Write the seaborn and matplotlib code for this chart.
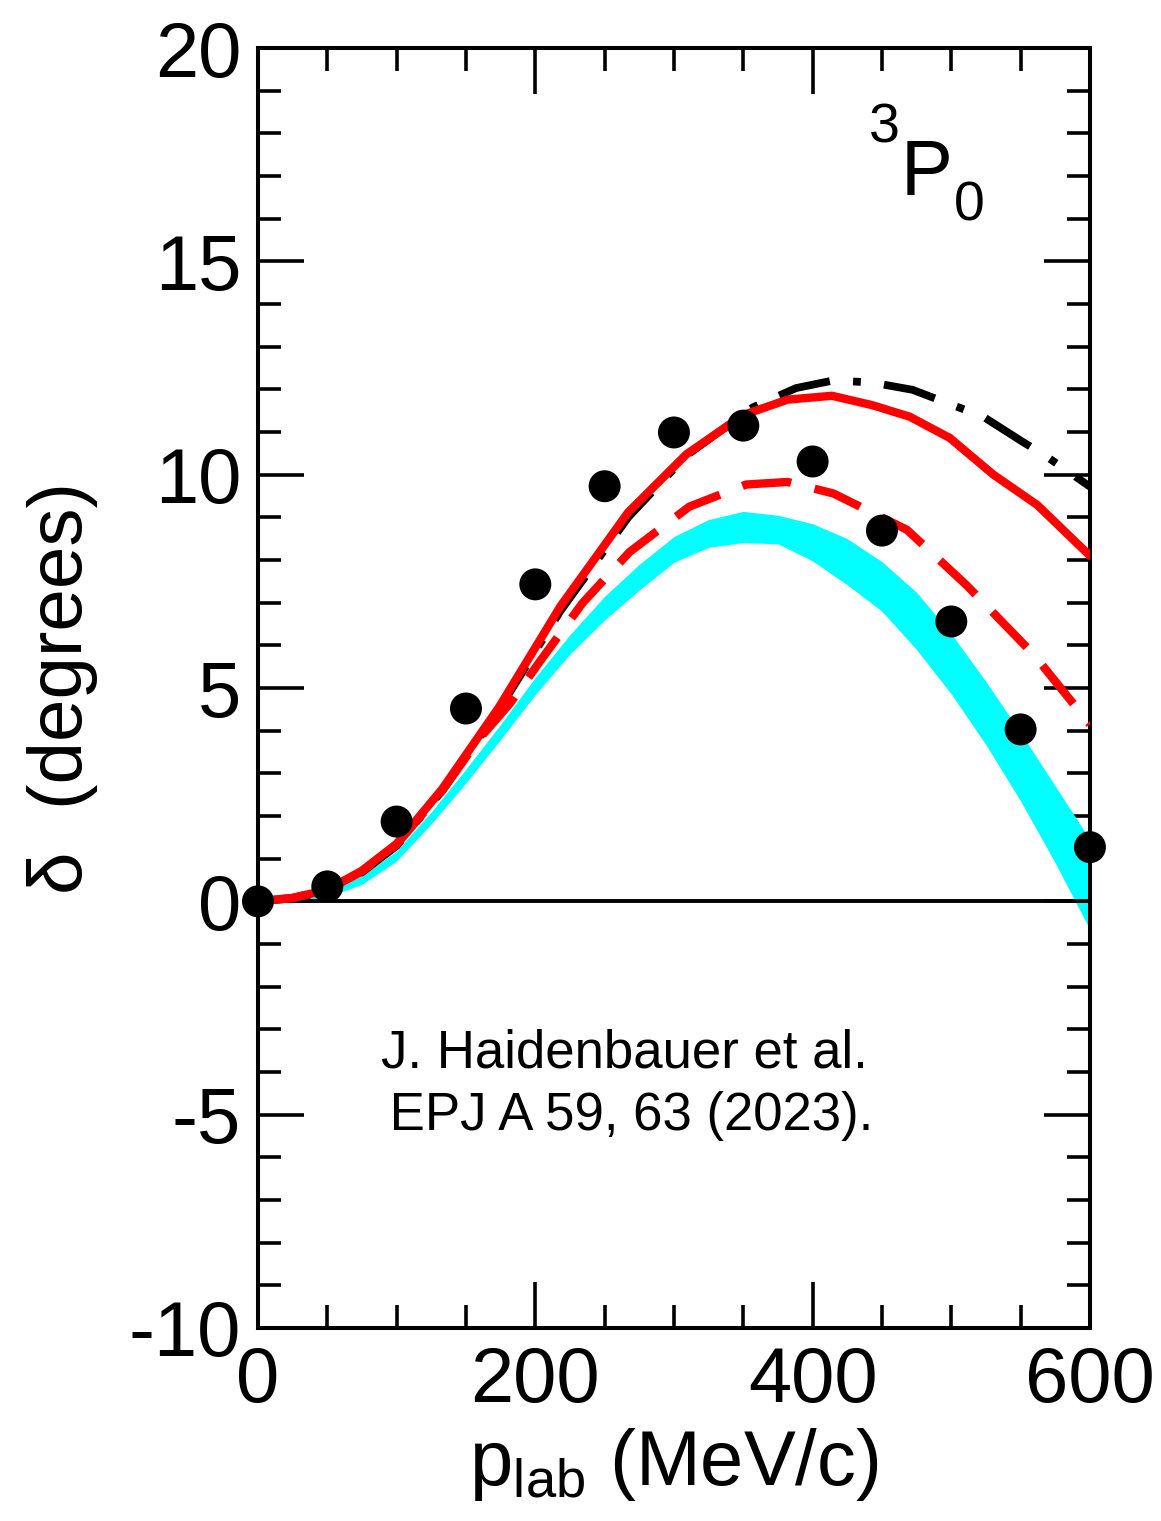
import matplotlib
matplotlib.use("Agg")
import matplotlib.pyplot as plt
import seaborn as sns
import pandas as pd
import numpy as np

# data points (black dots)
dot_p = [0, 50, 100, 150, 200, 250, 300, 350, 400, 450, 500, 550, 600]
dot_v = [0.0, 0.35, 1.87, 4.52, 7.43, 9.73, 10.99, 11.15, 10.31, 8.69, 6.56, 4.03, 1.27]

# red solid curve
red_p = [0, 25, 50, 75, 100, 133, 174, 218, 267, 309, 350, 382, 414, 443, 470, 499, 530, 562, 600]
red_v = [0.0, 0.08, 0.27, 0.72, 1.35, 2.64, 4.56, 6.91, 9.12, 10.48, 11.4, 11.76, 11.85, 11.63, 11.36, 10.86, 10.01, 9.29, 8.1]

# black dash-dot curve
blk_p = [0, 25, 50, 75, 100, 133, 174, 218, 267, 309, 357, 388, 415, 443, 472, 523, 551, 569, 600]
blk_v = [0.0, 0.07, 0.25, 0.68, 1.3, 2.6, 4.5, 6.8, 9.0, 10.45, 11.58, 12.03, 12.21, 12.16, 11.99, 11.36, 10.78, 10.42, 9.72]

# red dashed curve
rdash_p = [0, 25, 50, 75, 100, 133, 158, 182, 203, 234, 268, 311, 352, 382, 415, 468, 511, 559, 600]
rdash_v = [0.0, 0.08, 0.27, 0.7, 1.33, 2.6, 3.75, 4.65, 5.61, 6.99, 8.19, 9.25, 9.77, 9.83, 9.56, 8.71, 7.41, 5.8, 4.15]

# cyan band
band_p = [0, 25, 50, 75, 100, 125, 150, 175, 200, 225, 250, 275, 300, 325, 350, 375, 400,
          425, 450, 475, 500, 525, 550, 575, 600]
band_hi = [0.03, 0.08, 0.25, 0.6, 1.18, 2.1, 3.1, 4.15, 5.25, 6.25, 7.15, 7.9, 8.55, 8.95, 9.14, 9.05, 8.85,
           8.5, 7.96, 7.24, 6.27, 5.15, 3.95, 2.7, 1.45]
band_lo = [-0.05, 0.0, 0.1, 0.4, 0.95, 1.82, 2.78, 3.8, 4.85, 5.8, 6.6, 7.3, 7.95, 8.3, 8.41, 8.38, 7.98,
           7.42, 6.8, 5.9, 4.86, 3.67, 2.35, 0.9, -0.66]

sns.set_style("ticks")
plt.rcParams['font.family'] = ['Liberation Sans', 'DejaVu Sans']
plt.rcParams['mathtext.fontset'] = 'custom'
plt.rcParams['mathtext.rm'] = 'Liberation Sans'
plt.rcParams['mathtext.it'] = 'Liberation Sans'
plt.rcParams['axes.unicode_minus'] = False
for k in ['text.color', 'axes.labelcolor', 'xtick.color', 'ytick.color', 'axes.edgecolor']:
    plt.rcParams[k] = 'black'

fig = plt.figure(figsize=(11.61, 15.21), dpi=100)
ax = fig.add_axes([0.2222, 0.1269, 0.9388 - 0.2222, 0.9684 - 0.1269])

ax.fill_between(band_p, band_lo, band_hi, color='#00ffff', lw=0, zorder=1)
ax.axhline(0, color='black', lw=2.8, zorder=2)

df_blk = pd.DataFrame({'p': blk_p, 'v': blk_v})
df_red = pd.DataFrame({'p': red_p, 'v': red_v})
df_rd = pd.DataFrame({'p': rdash_p, 'v': rdash_v})

sns.lineplot(data=df_blk, x='p', y='v', ax=ax, color='black', zorder=3, sort=False)
ln = ax.lines[-1]
ln.set_linewidth(5.6)
ln.set_dashes([6.8, 3.0, 1.0, 3.0])
ln.set_dash_capstyle('butt')

sns.lineplot(data=df_rd, x='p', y='v', ax=ax, color='#ff0000', zorder=4, sort=False)
ln = ax.lines[-1]
ln.set_linewidth(6.0)
ln.set_dashes([5.9, 2.9])
ln.set_dash_capstyle('butt')

sns.lineplot(data=df_red, x='p', y='v', ax=ax, color='#ff0000', zorder=5, sort=False)
ax.lines[-1].set_linewidth(6.0)

sns.scatterplot(x=dot_p, y=dot_v, ax=ax, color='black', s=530, edgecolor='none',
                zorder=6, clip_on=False)

ax.set_xlim(0, 600)
ax.set_ylim(-10, 20)
ax.set_xticks([0, 200, 400, 600])
ax.set_xticks(np.arange(0, 601, 50), minor=True)
ax.set_yticks([-10, -5, 0, 5, 10, 15, 20])
ax.set_yticks(np.arange(-10, 21, 1), minor=True)
ax.tick_params(which='both', direction='in', top=True, right=True, width=2.6, color='black')
ax.tick_params(which='major', length=33, labelsize=56, pad=12)
ax.tick_params(which='minor', length=16.5)
for s in ax.spines.values():
    s.set_linewidth(2.9)
    s.set_color('black')

ax.set_xlabel(r'p$_{\mathregular{lab}}$ (MeV/c)', fontsize=56, labelpad=6)
ax.set_ylabel('δ  (degrees)', fontsize=55, labelpad=22)

ax.text(0.734, 0.917, '3', transform=ax.transAxes, fontsize=40, ha='left', va='bottom')
ax.text(0.772, 0.873, 'P', transform=ax.transAxes, fontsize=56, ha='left', va='bottom')
ax.text(0.836, 0.856, '0', transform=ax.transAxes, fontsize=40, ha='left', va='bottom')

ax.text(0.44, 0.19, 'J. Haidenbauer et al.\n EPJ A 59, 63 (2023).', transform=ax.transAxes,
        fontsize=38, ha='center', va='center', linespacing=1.3)

fig.savefig('out.png', dpi=100, facecolor='white')
